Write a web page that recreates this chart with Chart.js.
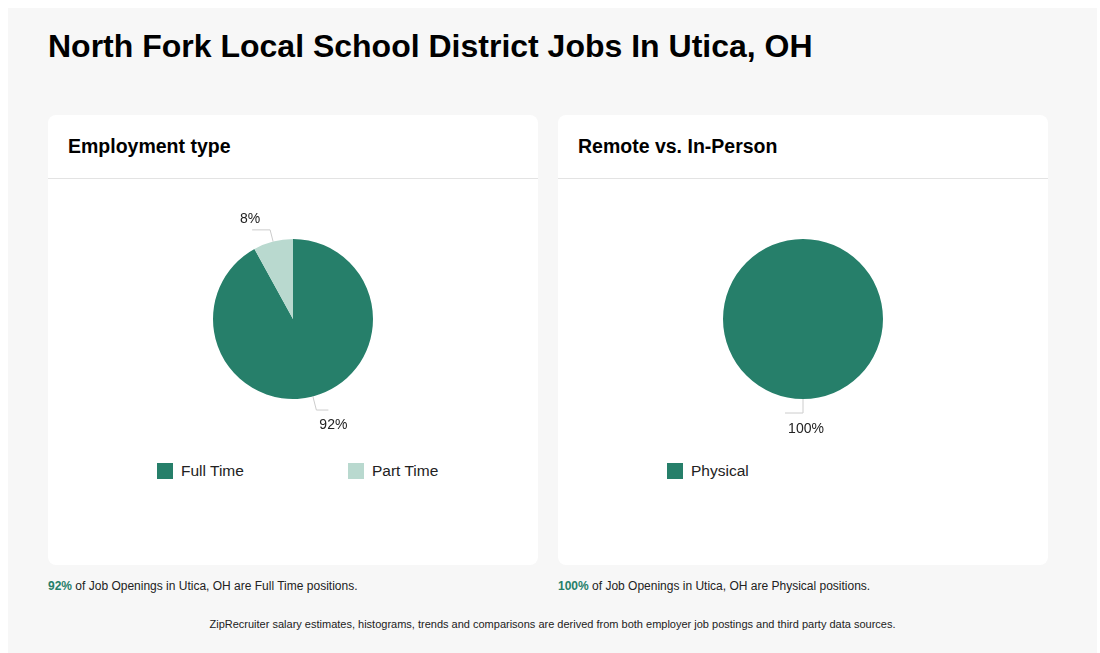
<!DOCTYPE html>
<html><head><meta charset="utf-8">
<script src="https://cdn.jsdelivr.net/npm/chart.js@4"></script>
<style>
body{margin:0;background:#fff;font-family:"Liberation Sans",Arial,sans-serif;}
#wrap{position:absolute;left:8px;top:8px;width:1089px;height:645px;background:#f7f7f7;}
h1{position:absolute;left:40px;top:20px;margin:0;font-size:32px;font-weight:bold;color:#000;}
.card{position:absolute;top:107px;width:490px;height:450px;background:#fff;border-radius:8px;}
.card h2{margin:0;position:absolute;left:20px;top:20px;font-size:19.5px;font-weight:bold;}
.card .div{position:absolute;left:0;right:0;top:63px;border-top:1px solid #e3e3e3;}
.card .cv{position:absolute;left:0;top:64px;width:490px;height:280px;}
.legend{position:absolute;top:347px;left:0;width:490px;height:20px;font-size:15.5px;color:#222;}
.legend span{position:absolute;display:flex;align-items:center;}
.legend i{display:inline-block;width:16px;height:16px;margin-right:8px;}
.note{position:absolute;top:571px;font-size:12px;color:#222;}
.note b{color:#267f6a;}
.foot{position:absolute;top:610px;left:0;width:1089px;text-align:center;font-size:11px;color:#222;}
</style></head><body>
<div id="wrap">
<h1>North Fork Local School District Jobs In Utica, OH</h1>
<div class="card" style="left:40px"><h2>Employment type</h2><div class="div"></div><div class="cv"><canvas id="c1"></canvas></div><div class="legend" id="l1"></div></div>
<div class="card" style="left:550px"><h2>Remote vs. In-Person</h2><div class="div"></div><div class="cv"><canvas id="c2"></canvas></div><div class="legend" id="l2"></div></div>
<div class="note" style="left:40px"><b>92%</b> of Job Openings in Utica, OH are Full Time positions.</div>
<div class="note" style="left:550px"><b>100%</b> of Job Openings in Utica, OH are Physical positions.</div>
<div class="foot">ZipRecruiter salary estimates, histograms, trends and comparisons are derived from both employer job postings and third party data sources.</div>
</div>
<script>
const empLabels=["Full Time","Part Time"];
const empValues=[92,8];
const remLabels=["Physical"];
const remValues=[100];
const colors=["#267f6a","#b9d9cf"];

const labelPlugin={id:'lbl',afterDatasetsDraw(chart){
  const ctx=chart.ctx;const meta=chart.getDatasetMeta(0);const vals=chart.data.datasets[0].data;
  meta.data.forEach((arc,i)=>{
    const mid=(arc.startAngle+arc.endAngle)/2;const r=arc.outerRadius;
    const below=Math.sin(mid)>0;
    const ext=below?14:12;
    const x1=arc.x+Math.cos(mid)*r,y1=arc.y+Math.sin(mid)*r;
    const x2=arc.x+Math.cos(mid)*(r+ext),y2=arc.y+Math.sin(mid)*(r+ext);
    const right=Math.cos(mid)>=0.001;
    const x3=x2+(right?12:-18);
    ctx.save();ctx.strokeStyle='#ccc';ctx.lineWidth=1;ctx.beginPath();ctx.moveTo(x1,y1);ctx.lineTo(x2,y2);ctx.lineTo(x3,y2);ctx.stroke();
    ctx.fillStyle='#222';ctx.font='14px "Liberation Sans",Arial';ctx.textBaseline='middle';
    const t=vals[i]+'%';
    ctx.textAlign='center';
    if(vals.length===1){ctx.fillText(t,x2+3,y2+16);}
    else if(!below){ctx.fillText(t,x3-2,y2-11);}
    else{ctx.fillText(t,x3+5,y2+15);}
    ctx.restore();
  });
}};
function make(id,labels,values,lid,xs){
  new Chart(document.getElementById(id),{type:'pie',data:{labels,datasets:[{data:values,backgroundColor:colors.slice(0,values.length),borderWidth:0}]},
  options:{responsive:true,maintainAspectRatio:false,animation:false,radius:80,plugins:{legend:{display:false},tooltip:{enabled:false}}},plugins:[labelPlugin]});
  const l=document.getElementById(lid);
  labels.forEach((t,i)=>{const s=document.createElement('span');s.style.left=xs[i]+'px';s.innerHTML='<i style="background:'+colors[i]+'"></i>'+t;l.appendChild(s);});
}
make('c1',empLabels,empValues,'l1',[109,300]);
make('c2',remLabels,remValues,'l2',[109]);
</script>
</body></html>
